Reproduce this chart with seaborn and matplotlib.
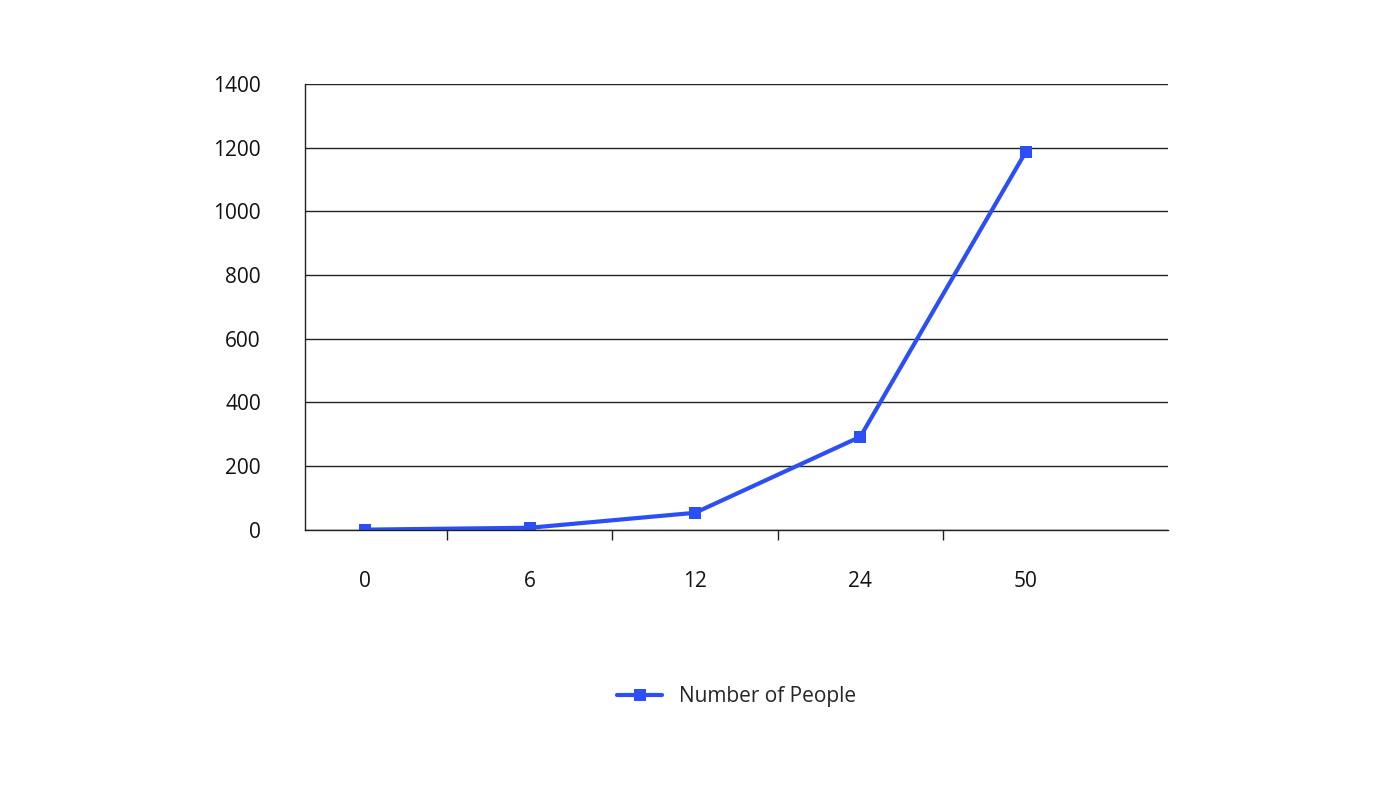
import matplotlib
matplotlib.use("Agg")
import matplotlib.pyplot as plt
import seaborn as sns
import pandas as pd

categories = ["0", "6", "12", "24", "50"]
people = [0, 6, 53, 292, 1186]
yticks = [0, 200, 400, 600, 800, 1000, 1200, 1400]

sns.set_theme(style="white")
plt.rcParams['font.family'] = ['Open Sans', 'DejaVu Sans']

df = pd.DataFrame({"x": categories, "Number of People": people})
fig = plt.figure(figsize=(14, 7.87), dpi=100)
ax = fig.add_axes([0.218, 0.327, 0.616, 0.566])
color = "#2b4ff5"
sns.lineplot(data=df, x="x", y="Number of People", ax=ax, color=color, marker="s",
             markersize=8, markeredgewidth=0, linewidth=3, sort=False,
             label="Number of People")
ax.set_xlim(-0.36, 4.86)
ax.set_ylim(0, 1400)
ax.set_yticks(yticks)
ax.yaxis.grid(True, color="#222222", linewidth=1)
ax.set_axisbelow(True)
for s in ["top", "right"]:
    ax.spines[s].set_visible(False)
for s in ["left", "bottom"]:
    ax.spines[s].set_color("#222222")
    ax.spines[s].set_linewidth(1)
ax.set_xlabel("")
ax.set_ylabel("")
ax.tick_params(axis="x", length=0, pad=30, labelsize=15, colors="#111111")
ax.tick_params(axis="y", length=0, pad=32, labelsize=15, colors="#111111")
ax.set_xticks([0.5, 1.5, 2.5, 3.5], minor=True)
ax.tick_params(axis="x", which="minor", length=7, direction="out", color="#222222", bottom=True)
ax.legend(loc="upper center", bbox_to_anchor=(0.5, -0.31), frameon=False, fontsize=15,
          handlelength=2.2)
fig.savefig("out.png", dpi=100)
